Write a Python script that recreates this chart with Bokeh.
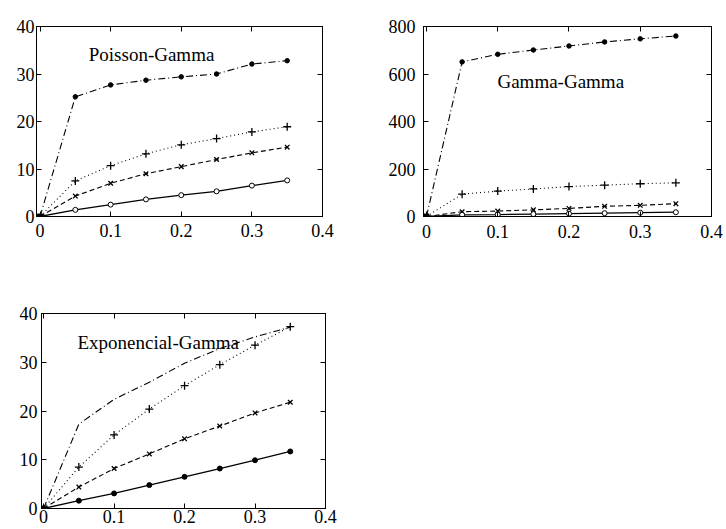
from bokeh.plotting import figure
from bokeh.models import FixedTicker, LinearAxis, Label
from bokeh.layouts import column, row
from bokeh.embed import file_html
from bokeh.resources import INLINE

# ---- data ----
x_vals = [0, 0.05, 0.1, 0.15, 0.2, 0.25, 0.3, 0.35]

pg_dashdot = [0, 25.2, 27.7, 28.7, 29.4, 30.0, 32.1, 32.8]
pg_plus = [0, 7.5, 10.7, 13.2, 15.1, 16.4, 17.8, 18.9]
pg_cross = [0, 4.3, 7.0, 9.0, 10.5, 12.0, 13.4, 14.6]
pg_circle = [0, 1.4, 2.5, 3.6, 4.5, 5.3, 6.5, 7.6]

gg_dashdot = [0, 651, 683, 701, 718, 735, 748, 760]
gg_plus = [0, 94, 107, 116, 126, 132, 138, 142]
gg_cross = [0, 20, 23, 28, 34, 43, 47, 54]
gg_circle = [0, 7, 8, 10, 12, 14, 16, 18]

eg_dashdot = [0, 17.3, 22.4, 25.9, 29.8, 32.8, 35.2, 37.2]
eg_plus = [0, 8.5, 15.1, 20.4, 25.2, 29.5, 33.5, 37.3]
eg_cross = [0, 4.4, 8.2, 11.2, 14.3, 16.9, 19.6, 21.8]
eg_dot = [0, 1.6, 3.1, 4.8, 6.5, 8.2, 9.9, 11.7]

x_ticks = [0, 0.1, 0.2, 0.3, 0.4]
y_ticks_small = [0, 10, 20, 30, 40]
y_ticks_large = [0, 200, 400, 600, 800]

titles = ["Poisson-Gamma", "Gamma-Gamma", "Exponencial-Gamma"]

FONT = "'Liberation Serif', 'Times New Roman', serif"


def make_fig(width, height, borders, xr, yr, yticks, standoff_x, standoff_y):
    l, r, t, b = borders
    p = figure(width=width, height=height, x_range=xr, y_range=yr,
               output_backend="svg", toolbar_location=None,
               min_border_left=l, min_border_right=r,
               min_border_top=t, min_border_bottom=b)
    p.xgrid.visible = False
    p.ygrid.visible = False
    p.outline_line_color = "black"
    p.outline_line_width = 1
    p.background_fill_color = "white"
    p.border_fill_color = "white"
    p.xaxis.ticker = FixedTicker(ticks=x_ticks)
    p.yaxis.ticker = FixedTicker(ticks=yticks)
    for ax, so in ((p.xaxis, standoff_x), (p.yaxis, standoff_y)):
        ax.major_tick_in = 5
        ax.major_tick_out = 0
        ax.minor_tick_line_color = None
        ax.axis_line_color = "black"
        ax.major_label_text_font = FONT
        ax.major_label_text_font_size = "18px"
        ax.major_label_text_color = "black"
        ax.major_label_standoff = so
    p.xaxis.major_label_overrides = {0: "0"}
    # inward ticks on the top and right sides (no labels)
    top = LinearAxis(ticker=FixedTicker(ticks=x_ticks))
    right = LinearAxis(ticker=FixedTicker(ticks=yticks))
    top.major_label_overrides = {t: "" for t in x_ticks}
    right.major_label_overrides = {t: "" for t in yticks}
    for ax in (top, right):
        ax.major_tick_in = 5
        ax.major_tick_out = 0
        ax.minor_tick_line_color = None
        ax.axis_line_color = "black"
        ax.major_label_text_font = FONT
        ax.major_label_text_font_size = "10px"
        ax.major_label_standoff = 0
    p.add_layout(top, "above")
    p.add_layout(right, "right")
    return p


def add_series(p, dashdot, plus, cross, low, low_filled, dd_markers):
    p.line(x_vals, dashdot, line_color="black", line_width=1.1, line_dash="7 3 1 3")
    if dd_markers:
        p.scatter(x_vals[1:], dashdot[1:], marker="circle", size=4.5,
                  fill_color="black", line_color="black")
    p.line(x_vals, plus, line_color="black", line_width=1.1, line_dash="1 3")
    p.scatter(x_vals[1:], plus[1:], marker="cross", size=8, line_color="black", line_width=1.3)
    p.line(x_vals, cross, line_color="black", line_width=1.1, line_dash="5 3")
    p.scatter(x_vals[1:], cross[1:], marker="x", size=6.5, line_color="black", line_width=1.3)
    p.line(x_vals, low, line_color="black", line_width=1.3)
    p.scatter(x_vals[1:], low[1:], marker="circle", size=5,
              fill_color="black" if low_filled else "white", line_color="black", line_width=1)
    p.scatter([0], [0], marker="square", size=5, fill_color="black", line_color="black")


f1 = make_fig(370, 260, (36, 48, 26, 38), (-0.005, 0.4), (0, 40), y_ticks_small, 7, 2)
add_series(f1, pg_dashdot, pg_plus, pg_cross, pg_circle, False, True)
f1.add_layout(Label(x=0.069, y=32.0, text=titles[0], text_font=FONT,
                    text_font_size="19px", text_color="black"))

f2 = make_fig(356, 260, (53, 15, 20, 44), (-0.0042, 0.4), (0, 800), y_ticks_large, 8, 8)
add_series(f2, gg_dashdot, gg_plus, gg_cross, gg_circle, False, True)
f2.add_layout(Label(x=0.0996, y=526, text=titles[1], text_font=FONT,
                    text_font_size="19px", text_color="black"))

f3 = make_fig(370, 269, (41, 45, 53, 21), (-0.003, 0.4), (0, 40), y_ticks_small, 1, 4)
add_series(f3, eg_dashdot, eg_plus, eg_cross, eg_dot, True, False)
f3.add_layout(Label(x=0.048, y=31.8, text=titles[2], text_font=FONT,
                    text_font_size="19px", text_color="black"))

layout = column(row(f1, f2), f3)
open("out.html", "w").write(file_html(layout, INLINE))
